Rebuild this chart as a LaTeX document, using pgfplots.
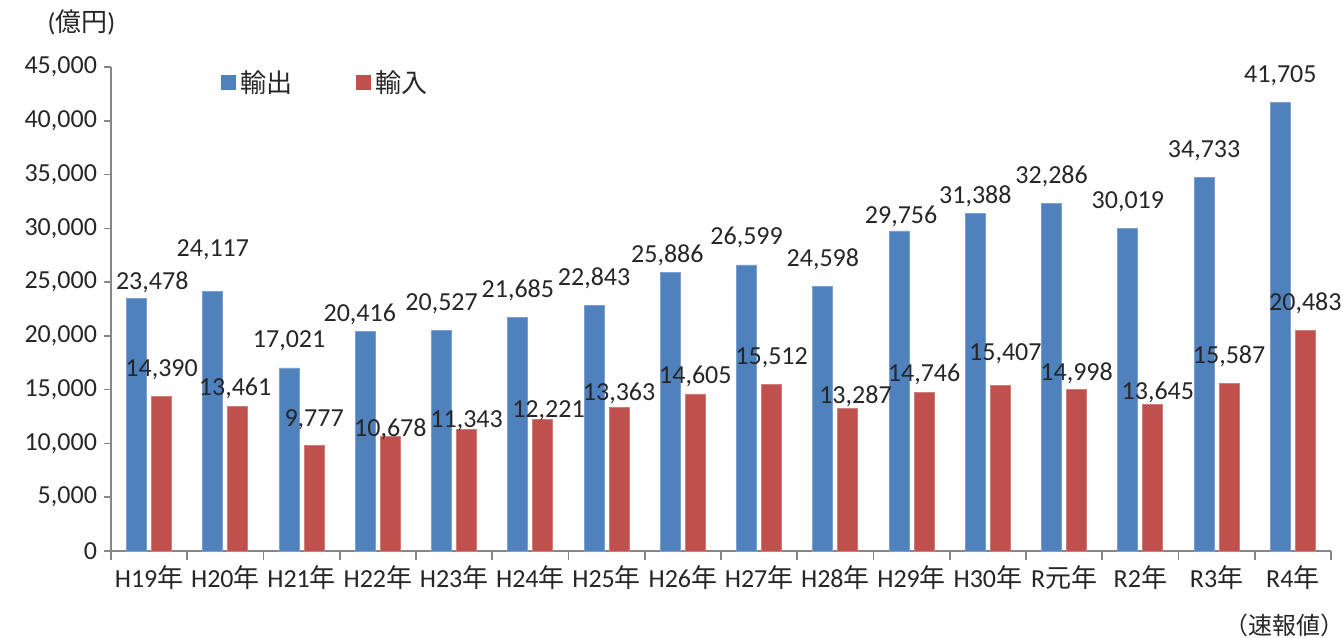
\documentclass[border=0pt]{standalone}
\usepackage{fontspec}
\setmainfont{Carlito}
\newfontfamily\cjk{Noto Sans CJK JP}
\usepackage{pgfplots}
\usepackage{pgfplotstable}
\pgfplotsset{compat=1.18}
\definecolor{xblue}{HTML}{4F81BD}
\definecolor{xred}{HTML}{C0504D}
\definecolor{axgray}{HTML}{868686}
\definecolor{txt}{HTML}{262626}
% x: category, y: value, dx/dy: label offsets (pt)
\pgfplotstableread{
x y dx dy
0 23478 7.8 4.5
1 24117 0 17.5
2 17021 0 10
3 20416 -2.8 5
4 20527 0 10
5 21685 0 10
6 22843 0 10
7 25886 -1.5 4.8
8 26599 0 10
9 24598 0 10
10 29756 1 3.6
11 31388 0 5
12 32286 0 10
13 30019 0 10
14 34733 0 10
15 41705 0 10
}\exports
\pgfplotstableread{
x y dx dy
0 14390 0 9.7
1 13461 -1.4 5.5
2 9777 0 9.7
3 10678 0 -0.4
4 11343 0 1
5 12221 2.8 0.8
6 13363 0 3.6
7 14605 0 5
8 15512 0 10
9 13287 3.8 2.5
10 14746 0 5.5
11 15407 2.5 12.5
12 14998 0 4.6
13 13645 2.5 2.6
14 15587 0 10
15 20483 0 10
}\imports
\begin{document}
\begin{tikzpicture}
\useasboundingbox (0,0) rectangle (671.5pt,318.5pt);
\begin{axis}[
  at={(55.5pt,43pt)}, anchor=south west,
  scale only axis, width=610pt, height=242pt,
  ybar=2.5pt, bar width=10pt,
  xmin=-0.5, xmax=15.5, ymin=0, ymax=45000,
  axis x line*=bottom, axis y line*=left,
  axis line style={axgray, line width=0.8pt, -},
  clip=false,
  xtick={0,...,15},
  xticklabels={H19{\cjk 年},H20{\cjk 年},H21{\cjk 年},H22{\cjk 年},H23{\cjk 年},H24{\cjk 年},H25{\cjk 年},H26{\cjk 年},H27{\cjk 年},H28{\cjk 年},H29{\cjk 年},H30{\cjk 年},R{\cjk 元年},R2{\cjk 年},R3{\cjk 年},R4{\cjk 年}},
  minor xtick={-0.5,0.5,...,15.5},
  ytick={0,5000,...,45000},
  scaled y ticks=false,
  /pgf/number format/1000 sep={,},
  /pgf/number format/assume math mode=true,
  tick align=outside,
  major tick length=3.5pt, minor tick length=4.5pt,
  tick style={axgray, line width=0.8pt},
  major x tick style={draw=none},
  tick label style={font=\fontsize{13}{15}\selectfont, text=txt},
  nodes near coords={\pgfmathprintnumber[fixed,precision=0]{\pgfplotspointmeta}},
  visualization depends on={\thisrow{dx} \as \labdx},
  visualization depends on={\thisrow{dy} \as \labdy},
  every node near coord/.append style={font=\fontsize{13}{15}\selectfont, text=txt, anchor=base, xshift=\labdx pt, yshift=\labdy pt},
  legend style={at={(0.085,0.967)}, anchor=west, draw=none, fill=none,
    font=\cjk\fontsize{13}{15}\selectfont, text=txt,
    /tikz/every even column/.append style={column sep=30pt}},
  legend columns=2,
  legend image code/.code={\path[#1,draw=none] (0pt,-3.75pt) rectangle (7.5pt,3.75pt);},
]
\addplot[fill=xblue, draw=xblue!75!white, line width=0.4pt] table[x=x,y=y] {\exports};
\addplot[fill=xred, draw=xred!75!white, line width=0.4pt] table[x=x,y=y] {\imports};
\legend{輸出,輸入}
\end{axis}
\node[font=\fontsize{13}{15}\selectfont, text=txt] at (40.75pt,307.5pt) {({\cjk 億円})};
\node[font=\cjk\fontsize{12}{14}\selectfont, text=txt] at (642pt,6pt) {（速報値）};
\end{tikzpicture}
\end{document}
